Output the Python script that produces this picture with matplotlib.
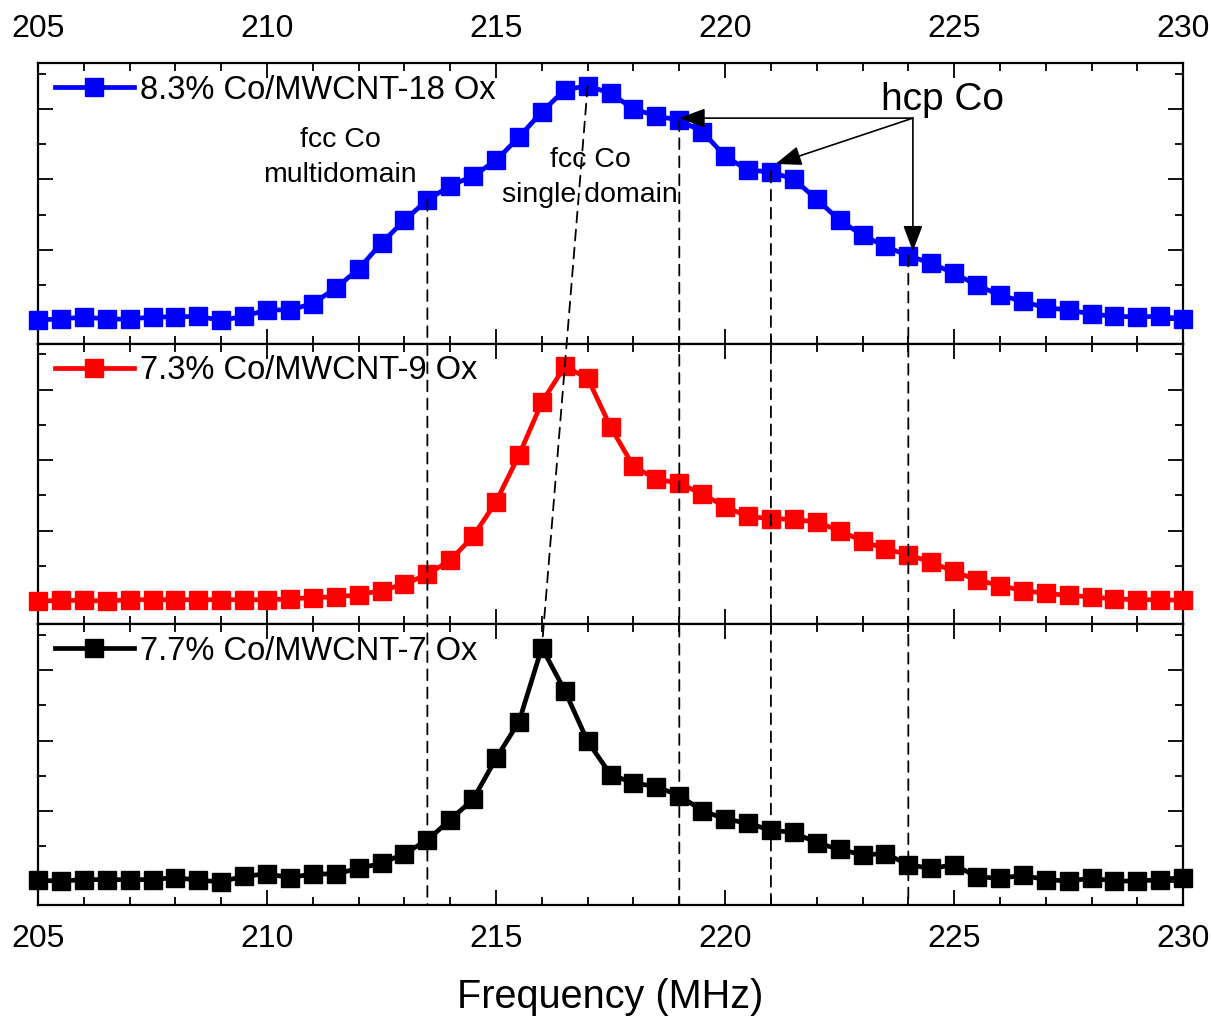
import numpy as np
import matplotlib
matplotlib.use("Agg")
import matplotlib.pyplot as plt
from matplotlib.patches import ConnectionPatch
from matplotlib.ticker import MultipleLocator

plt.rcParams['font.family'] = ['Liberation Sans', 'DejaVu Sans']

# frequency sweep, 0.5 MHz step
freq = np.arange(205.0, 230.01, 0.5)

ox18 = [0.01, 0.02, 0.05, 0.02, 0.02, 0.05, 0.05, 0.06, 0.00, 0.06,
        0.15, 0.15, 0.24, 0.46, 0.73, 1.10, 1.42, 1.71, 1.91, 2.05,
        2.27, 2.60, 2.96, 3.27, 3.33, 3.22, 3.00, 2.90, 2.84, 2.68,
        2.33, 2.13, 2.11, 2.00, 1.72, 1.42, 1.21, 1.05, 0.92, 0.81,
        0.67, 0.50, 0.36, 0.27, 0.18, 0.15, 0.09, 0.06, 0.05, 0.06, 0.02]

ox9 = [0.00, 0.01, 0.01, 0.00, 0.02, 0.02, 0.02, 0.02, 0.02, 0.02,
       0.02, 0.03, 0.05, 0.06, 0.09, 0.15, 0.24, 0.38, 0.58, 0.92,
       1.41, 2.07, 2.82, 3.33, 3.16, 2.47, 1.91, 1.73, 1.67, 1.52,
       1.34, 1.20, 1.17, 1.16, 1.12, 1.00, 0.85, 0.74, 0.66, 0.55,
       0.42, 0.30, 0.22, 0.15, 0.11, 0.08, 0.06, 0.03, 0.02, 0.02, 0.01]

ox7 = [0.02, 0.01, 0.03, 0.03, 0.03, 0.03, 0.06, 0.02, 0.00, 0.08,
       0.11, 0.06, 0.11, 0.11, 0.19, 0.26, 0.40, 0.59, 0.88, 1.17,
       1.75, 2.27, 3.32, 2.71, 1.99, 1.52, 1.40, 1.35, 1.22, 1.01,
       0.89, 0.83, 0.73, 0.70, 0.55, 0.46, 0.38, 0.40, 0.24, 0.19,
       0.24, 0.07, 0.05, 0.09, 0.03, 0.01, 0.05, 0.01, 0.01, 0.03, 0.06]

series = [ox18, ox9, ox7]
labels = ['8.3% Co/MWCNT-18 Ox', '7.3% Co/MWCNT-9 Ox', '7.7% Co/MWCNT-7 Ox']
colors = ['#0000FF', '#FF0000', '#000000']

hcp_lines = [219.0, 221.0, 224.0]
fcc_multi = 213.5
peaks = [217.0, 216.0]

fig, axes = plt.subplots(3, 1, sharex=True, figsize=(12.11, 10.18), dpi=100)
fig.subplots_adjust(left=0.0314, right=0.977, top=0.938, bottom=0.111, hspace=0)

ylo, yhi = -0.33, 3.65
for ax, y, lab, c in zip(axes, series, labels, colors):
    ax.plot(freq, y, '-s', color=c, lw=3.4, ms=12.5, label=lab, clip_on=False, zorder=3)
    ax.set_xlim(205, 230)
    ax.set_ylim(ylo, yhi)
    ax.xaxis.set_major_locator(MultipleLocator(5))
    ax.xaxis.set_minor_locator(MultipleLocator(1))
    ax.yaxis.set_major_locator(MultipleLocator(1))
    ax.yaxis.set_minor_locator(MultipleLocator(0.5))
    ax.tick_params(which='both', direction='in', top=True, right=True,
                   labelleft=False, labelbottom=False, width=1.3, labelsize=23)
    ax.tick_params(which='major', length=11)
    ax.tick_params(which='minor', length=6)
    for s in ax.spines.values():
        s.set_linewidth(1.6)
    ax.legend(loc='upper left', bbox_to_anchor=(0.005, 1.0), frameon=False, fontsize=23.5,
              handlelength=2.4, handletextpad=0.2, borderaxespad=0.25, borderpad=0.1)

axes[0].tick_params(labeltop=True, pad=14)
axes[2].tick_params(labelbottom=True, pad=14)
axes[2].set_xlabel('Frequency (MHz)', fontsize=28.5, labelpad=17)

ax1, ax3 = axes[0], axes[2]


def val(x):
    return ox18[int(round((x - 205.0) / 0.5))]


# vertical dashed guides from the top curve down to the bottom axis
for x in [fcc_multi] + hcp_lines:
    con = ConnectionPatch(xyA=(x, val(x)), coordsA=ax1.transData,
                          xyB=(x, ylo), coordsB=ax3.transData,
                          color='k', lw=1.3, linestyle=(0, (6, 4)), zorder=5)
    fig.add_artist(con)

# slanted dashed line through the fcc single-domain peaks
con = ConnectionPatch(xyA=(peaks[0], val(peaks[0])), coordsA=ax1.transData,
                      xyB=(peaks[1], ox7[int(round((peaks[1] - 205) / 0.5))]), coordsB=ax3.transData,
                      color='k', lw=1.3, linestyle=(0, (6, 4)), zorder=5)
fig.add_artist(con)

ax1.text(211.6, 2.31, 'fcc Co\nmultidomain', fontsize=20.5, ha='center', va='center',
         linespacing=1.45)
ax1.text(217.05, 2.03, 'fcc Co\nsingle domain', fontsize=20.5, ha='center', va='center',
         linespacing=1.45)

ax1.text(224.75, 3.13, 'hcp Co', fontsize=28, ha='center', va='center')
src = (224.1, 2.87)
tips = [(219.0, 2.87), (221.1, 2.22), (224.1, 0.98)]
for t in tips:
    ax1.annotate('', xy=t, xytext=src,
                 arrowprops=dict(arrowstyle='-|>,head_length=0.8,head_width=0.3',
                                 color='k', lw=1.2, mutation_scale=20,
                                 shrinkA=0, shrinkB=0))

fig.savefig('out.png', dpi=100)
